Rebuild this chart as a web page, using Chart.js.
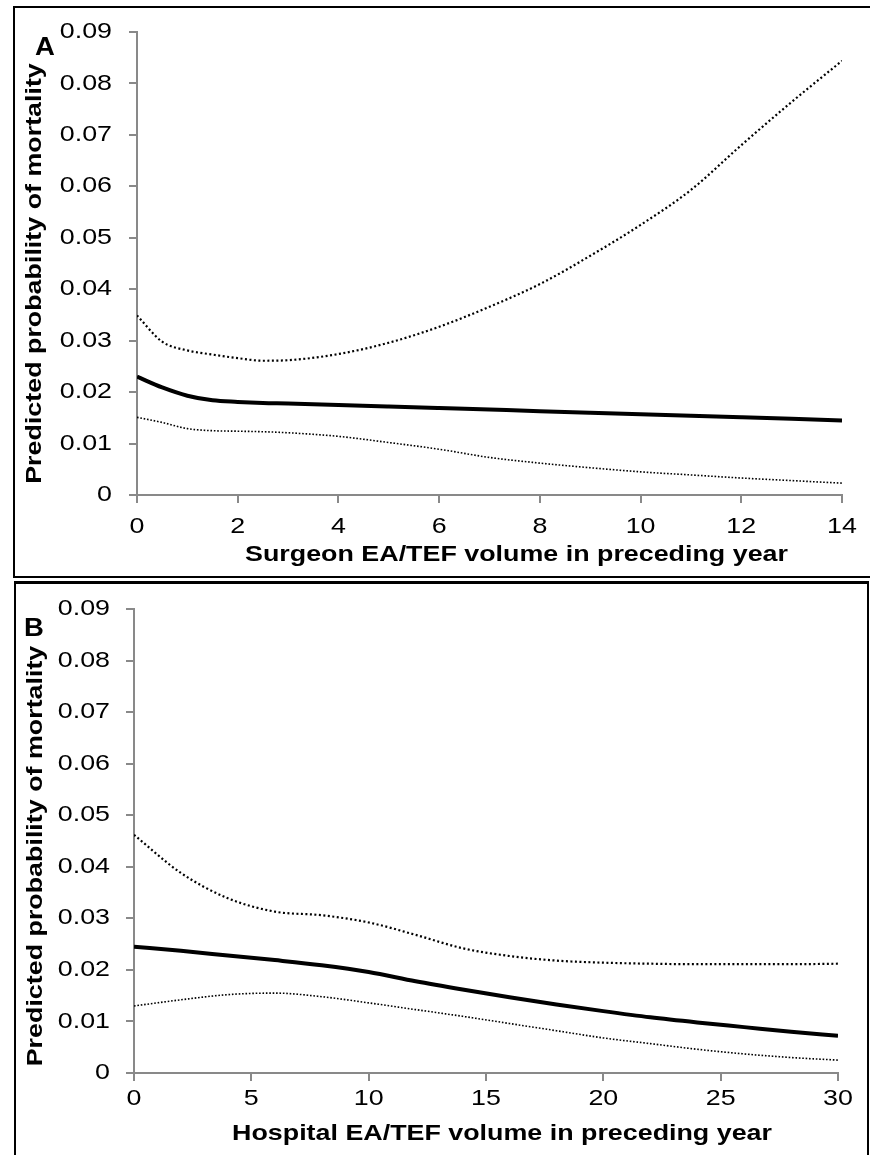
<!DOCTYPE html>
<html>
<head>
<meta charset="utf-8">
<script src="https://cdn.jsdelivr.net/npm/chart.js@4"></script>
<style>
  body { margin: 0; background: #fff; width: 870px; height: 1155px; position: relative; overflow: hidden; font-family: "Liberation Sans", Arial, sans-serif; }
  .panel { position: absolute; border: 2px solid #000; box-sizing: border-box; }
  .panel canvas { position: absolute; left: 0; top: 0; }
  .tag { position: absolute; font-weight: bold; font-size: 25px; color: #000; transform: scaleX(1.1); transform-origin: left top; }
</style>
</head>
<body>
<div class="panel" id="boxA" style="left:13px; top:6px; width:870px; height:572px;">
  <canvas id="chartA" width="866" height="568"></canvas>
</div>
<div class="tag" style="left:35px; top:32px;">A</div>
<div class="panel" id="boxB" style="left:14px; top:581px; width:855px; height:580px; border-top-width:3px;">
  <canvas id="chartB" width="851" height="575"></canvas>
</div>
<div class="tag" style="left:24px; top:613px;">B</div>
<script>
// panel A - surgeon volume
const surgeonX = [0, 0.5, 1, 1.5, 2, 2.5, 3, 4, 5, 6, 7, 8, 9, 10, 11, 12, 13, 14];
const surgeonMean = [0.0230, 0.0209, 0.0193, 0.0184, 0.0181, 0.0179, 0.0178, 0.0175, 0.0172, 0.0169, 0.0166, 0.0163, 0.0160, 0.0157, 0.0154, 0.0151, 0.0148, 0.0145];
const surgeonUpper = [0.0349, 0.0298, 0.0281, 0.0273, 0.0266, 0.0261, 0.0262, 0.0274, 0.0296, 0.0327, 0.0366, 0.0410, 0.0465, 0.0525, 0.0593, 0.0680, 0.0764, 0.0844];
const surgeonLower = [0.0151, 0.0141, 0.0129, 0.0125, 0.0124, 0.0123, 0.0121, 0.0114, 0.0102, 0.0089, 0.0073, 0.0062, 0.0053, 0.0045, 0.0039, 0.0033, 0.0028, 0.0023];

// panel B - hospital volume
const hospitalX = [0, 2, 4, 6, 8, 10, 12, 14, 16, 18, 20, 22, 24, 26, 28, 30];
const hospitalMean = [0.0245, 0.0237, 0.0228, 0.0219, 0.0209, 0.0196, 0.0178, 0.0162, 0.0147, 0.0133, 0.0120, 0.0108, 0.0098, 0.0089, 0.0080, 0.0072];
const hospitalUpper = [0.0462, 0.0388, 0.0339, 0.0313, 0.0306, 0.0292, 0.0268, 0.0242, 0.0227, 0.0218, 0.0214, 0.0212, 0.0211, 0.0211, 0.0211, 0.0212];
const hospitalLower = [0.0130, 0.0142, 0.0152, 0.0155, 0.0148, 0.0136, 0.0123, 0.0110, 0.0096, 0.0082, 0.0068, 0.0057, 0.0046, 0.0037, 0.0030, 0.0025];

const yTicks = [0, 0.01, 0.02, 0.03, 0.04, 0.05, 0.06, 0.07, 0.08, 0.09];
const yTitle = 'Predicted probability of mortality';
const surgeonTitle = 'Surgeon EA/TEF volume in preceding year';
const hospitalTitle = 'Hospital EA/TEF volume in preceding year';

// the text in the original is stretched sideways, do the same on the canvas
function wideText(stretch, shifts) {
    return {
        id: 'wideText',
        beforeDraw: function (chart) {
            var c = chart.ctx;
            if (c._wide) return;
            c._wide = true;
            var orig = c.fillText;
            c.fillText = function (text, x, y) {
                this.save();
                this.translate(x + (shifts[text] || 0), y);
                this.scale(stretch, 1);
                orig.call(this, text, 0, 0);
                this.restore();
            };
        }
    };
}

function pts(xs, ys) {
    return xs.map((x, i) => ({ x: x, y: ys[i] }));
}

function makeChart(id, xs, mean, upper, lower, xMax, xStep, xTitle, titleShift, yShift, pad, yWidth, xHeight, xTickPad, yTickPad, titleBottom) {
    var ctx = document.getElementById(id).getContext('2d');
    var shifts = {};
    shifts[xTitle] = titleShift;
    shifts[yTitle] = yShift;
    return new Chart(ctx, {
        type: 'line',
        plugins: [wideText(1.22, shifts)],
        data: {
            datasets: [{
                data: pts(xs, upper),
                borderColor: '#000',
                borderWidth: 2.2,
                borderDash: [2, 2.5],
                pointRadius: 0,
                cubicInterpolationMode: 'monotone'
            }, {
                data: pts(xs, mean),
                borderColor: '#000',
                borderWidth: 4,
                pointRadius: 0,
                cubicInterpolationMode: 'monotone'
            }, {
                data: pts(xs, lower),
                borderColor: '#000',
                borderWidth: 1.6,
                borderDash: [1.6, 1.8],
                pointRadius: 0,
                cubicInterpolationMode: 'monotone'
            }]
        },
        options: {
            responsive: false,
            animation: false,
            layout: { padding: pad },
            plugins: { legend: { display: false }, tooltip: { enabled: false } },
            scales: {
                x: {
                    type: 'linear',
                    min: 0,
                    max: xMax,
                    afterFit: function (s) { s.height = xHeight; s.paddingLeft = 0; s.paddingRight = 0; },
                    border: { color: '#898989', width: 2 },
                    grid: { drawOnChartArea: false, color: '#898989', lineWidth: 2, tickLength: 8 },
                    ticks: { stepSize: xStep, color: '#000', padding: xTickPad, font: { family: 'Liberation Sans', size: 22 } },
                    title: { display: true, text: xTitle, color: '#000', padding: { top: 0, bottom: titleBottom }, font: { family: 'Liberation Sans', size: 22, weight: 'bold' } }
                },
                y: {
                    min: 0,
                    max: 0.09,
                    afterFit: function (s) { s.width = yWidth; s.paddingTop = 0; s.paddingBottom = 0; },
                    afterBuildTicks: function (s) { s.ticks = yTicks.map(v => ({ value: v })); },
                    border: { color: '#898989', width: 2 },
                    grid: { drawOnChartArea: false, color: '#898989', lineWidth: 2, tickLength: 8 },
                    ticks: { color: '#000', padding: yTickPad, font: { family: 'Liberation Sans', size: 22 },
                        callback: function (v) { return v === 0 ? '0' : v.toFixed(2); } },
                    title: { display: true, text: yTitle, color: '#000', padding: { top: 5, bottom: 0 }, font: { family: 'Liberation Sans', size: 22, weight: 'bold' } }
                }
            }
        }
    });
}

makeChart('chartA', surgeonX, surgeonMean, surgeonUpper, surgeonLower, 14, 2, surgeonTitle, 27, -10,
    { left: 2, top: 24, right: 39, bottom: 0 }, 120, 81, 11, 17, 8);
makeChart('chartB', hospitalX, hospitalMean, hospitalUpper, hospitalLower, 30, 5, hospitalTitle, 16, -15,
    { left: 2, top: 25, right: 29, bottom: 0 }, 116, 86, 5, 16, 12);
</script>
</body>
</html>
